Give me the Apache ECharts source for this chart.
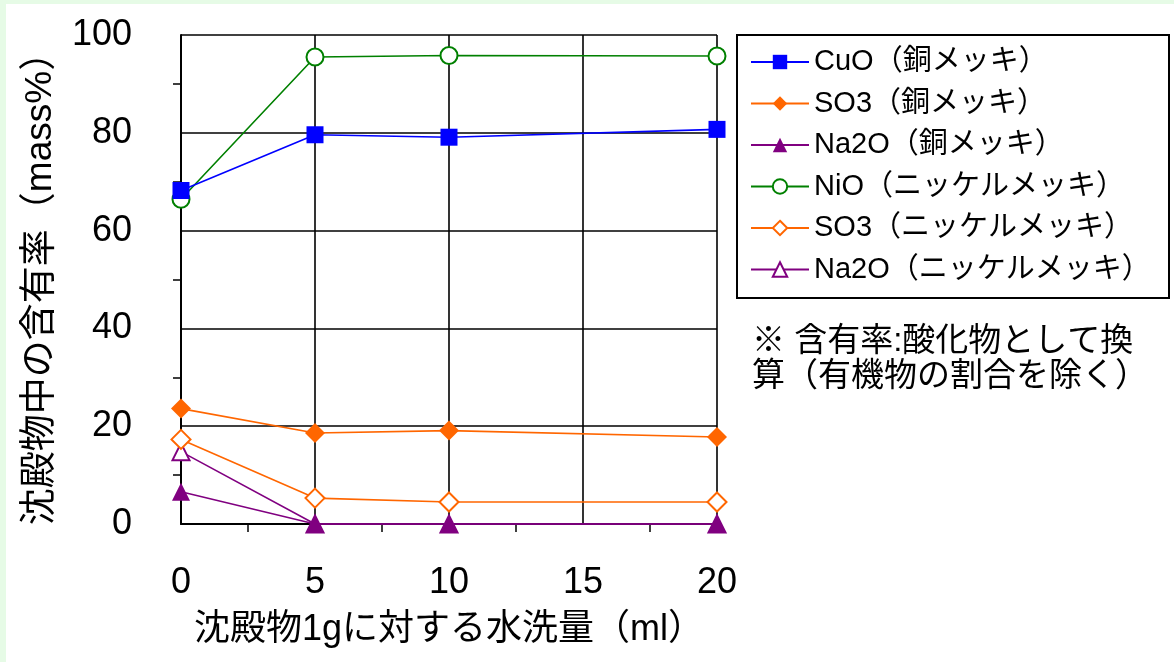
<!DOCTYPE html>
<html>
<head>
<meta charset="utf-8">
<script src="https://cdn.jsdelivr.net/npm/echarts@6/dist/echarts.min.js"></script>
<style>
html,body{margin:0;padding:0;background:#e6fbe6;width:1174px;height:662px;overflow:hidden;}
#c{position:absolute;left:6px;top:4px;width:1168px;height:658px;background:#ffffff;}
</style>
</head>
<body>
<div id="c"></div>
<script>
// x values (水洗量 ml)
const washX = [0, 5, 10, 20];
const cuoCu   = [68.2, 79.6, 79.1, 80.7];
const so3Cu   = [23.6, 18.6, 19.1, 17.8];
const na2oCu  = [6.6, 0, 0, 0];
const nioNi   = [66.4, 95.5, 95.8, 95.7];
const so3Ni   = [17.3, 5.3, 4.5, 4.5];
const na2oNi  = [14.8, 0, 0, 0];
const seriesNames = ['CuO（銅メッキ）','SO3（銅メッキ）','Na2O（銅メッキ）','NiO（ニッケルメッキ）','SO3（ニッケルメッキ）','Na2O（ニッケルメッキ）'];
const xTicks = [0, 5, 10, 15, 20];
const yTicks = [0, 20, 40, 60, 80, 100];
const xName = '沈殿物1gに対する水洗量（ml）';
const yName = '沈殿物中の含有率（mass%）';
const noteLines = ['※ 含有率:酸化物として換', '算（有機物の割合を除く）'];

const FONT = '"Liberation Sans", "Noto Sans CJK JP", sans-serif';
const pairs = ys => washX.map((x, i) => [x, ys[i]]);

const defs = [
  {d: cuoCu,  color: '#0000ff', symbol: 'rect',          size: 17},
  {d: so3Cu,  color: '#ff6600', symbol: 'diamond',       size: 20},
  {d: na2oCu, color: '#800080', symbol: 'triangle',      size: 18},
  {d: nioNi,  color: '#008000', symbol: 'emptyCircle',   size: 17},
  {d: so3Ni,  color: '#ff6600', symbol: 'emptyDiamond',  size: 19},
  {d: na2oNi, color: '#800080', symbol: 'emptyTriangle', size: 17}
];

const series = defs.map((s, i) => ({
  name: seriesNames[i],
  type: 'line',
  data: pairs(s.d),
  symbol: s.symbol,
  symbolSize: s.size,
  clip: false,
  z: 10 - i,
  lineStyle: {color: s.color, width: 1.6},
  itemStyle: {color: s.color, borderColor: s.color, borderWidth: s.symbol.startsWith('empty') ? 1.8 : 0},
  emphasis: {disabled: true}
}));
series[3].z = 5; series[4].z = 4; series[5].z = 3;

const chart = echarts.init(document.getElementById('c'), null, {renderer: 'canvas'});
chart.setOption({
  animation: false,
  backgroundColor: '#ffffff',
  textStyle: {fontFamily: FONT},
  grid: {left: 175, right: 457, top: 31, bottom: 138, containLabel: false},
  xAxis: {
    type: 'value', min: xTicks[0], max: xTicks[xTicks.length - 1], interval: 5,
    name: xName, nameLocation: 'middle', nameGap: 88,
    nameTextStyle: {fontSize: 36, color: '#000', fontFamily: FONT},
    axisLine: {lineStyle: {color: '#000', width: 2}},
    axisTick: {show: false},
    minorTick: {show: true, splitNumber: 2, length: 8, lineStyle: {color: '#000', width: 1.5}},
    axisLabel: {fontSize: 36, color: '#000', margin: 41, fontFamily: FONT},
    splitLine: {show: true, lineStyle: {color: '#000', width: 1.6}}
  },
  yAxis: {
    type: 'value', min: yTicks[0], max: yTicks[yTicks.length - 1], interval: 20,
    name: yName, nameLocation: 'middle', nameRotate: 90, nameGap: 122,
    nameTextStyle: {fontSize: 37, color: '#000', fontFamily: FONT},
    axisLine: {lineStyle: {color: '#000', width: 2}},
    axisTick: {show: false},
    minorTick: {show: true, splitNumber: 2, length: 8, lineStyle: {color: '#000', width: 1.5}},
    axisLabel: {fontSize: 36, color: '#000', margin: 49, fontFamily: FONT},
    splitLine: {show: true, lineStyle: {color: '#000', width: 1.6}}
  },
  legend: {
    orient: 'vertical', left: 744, top: 42, padding: 0,
    itemWidth: 58, itemHeight: 18, itemGap: 9.5, itemTextGap: 17,
    textStyle: {fontSize: 29, lineHeight: 32, color: '#000', fontFamily: FONT},
    data: seriesNames
  },
  graphic: [
    {type: 'rect', left: 730, top: 30, shape: {width: 432, height: 263},
     style: {fill: 'transparent', stroke: '#000', lineWidth: 2}},
    {type: 'text', left: 746, top: 321, style: {text: noteLines[0], font: '33px ' + FONT, fill: '#000'}},
    {type: 'text', left: 746, top: 356, style: {text: noteLines[1], font: '33px ' + FONT, fill: '#000'}}
  ],
  series: series
});
</script>
</body>
</html>
